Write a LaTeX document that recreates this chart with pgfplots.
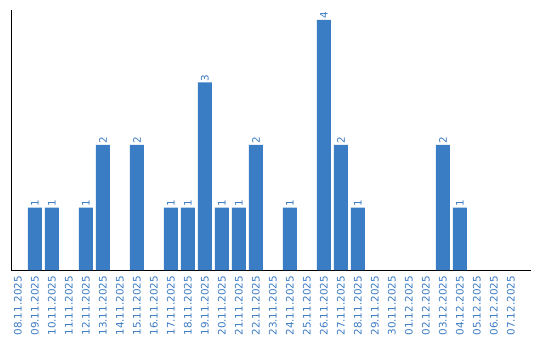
\documentclass[border=0pt]{standalone}
\usepackage{fontspec}
\setmainfont{DejaVu Sans}
\usepackage{pgfplots}
\pgfplotsset{compat=1.18}
\definecolor{barblue}{HTML}{3B7DC4}
\definecolor{txtblue}{HTML}{3D7CC4}
\begin{document}
\begin{tikzpicture}[x=1bp,y=1bp]
\useasboundingbox (0,0) rectangle (540,340);
\begin{axis}[
  at={(11bp,70bp)}, anchor=south west,
  scale only axis, width=520bp, height=260bp,
  xmin=-0.41, xmax=30.18, ymin=0, ymax=4.16,
  axis x line=bottom, axis y line=left,
  axis line style={black, line width=1bp, -},
  ytick=\empty,
  xtick={0,...,29},
  xticklabels={08.11.2025,09.11.2025,10.11.2025,11.11.2025,12.11.2025,13.11.2025,14.11.2025,15.11.2025,16.11.2025,17.11.2025,18.11.2025,19.11.2025,20.11.2025,21.11.2025,22.11.2025,23.11.2025,24.11.2025,25.11.2025,26.11.2025,27.11.2025,28.11.2025,29.11.2025,30.11.2025,01.12.2025,02.12.2025,03.12.2025,04.12.2025,05.12.2025,06.12.2025,07.12.2025},
  major tick length=0pt,
  xticklabel style={rotate=90, anchor=east, font=\fontsize{10.4}{11}\selectfont, text=txtblue, inner sep=0bp, xshift=-6bp},
  /pgf/number format/assume math mode=true,
  clip=false,
]
\addplot[ybar, bar width=14bp, fill=barblue, draw=none,
  nodes near coords,
  every node near coord/.append style={rotate=90, anchor=west, font=\fontsize{10.4}{11}\selectfont, text=txtblue, inner sep=1bp}
] coordinates {
 (1,1) (2,1) (4,1) (5,2) (7,2) (9,1) (10,1) (11,3) (12,1) (13,1) (14,2)
 (16,1) (18,4) (19,2) (20,1) (25,2) (26,1)
};
\end{axis}
\end{tikzpicture}
\end{document}
